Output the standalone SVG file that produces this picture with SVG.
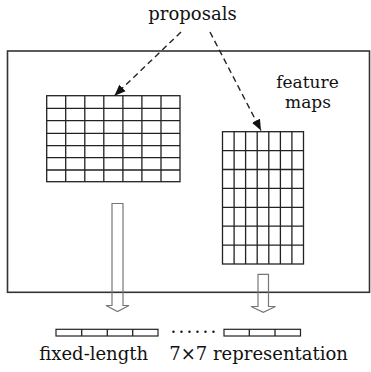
<svg xmlns="http://www.w3.org/2000/svg" width="371" height="372" viewBox="0 0 371 372">
<defs>
<style>
.lbl{font-family:"DejaVu Serif","Liberation Serif",serif;font-size:18px;fill:#111}
.side{font-size:17px}
.grid{fill:none;stroke:#222;stroke-width:1.3}
.frame{fill:none;stroke:#333;stroke-width:1.6}
.dash{fill:none;stroke:#222;stroke-width:1.4;stroke-dasharray:6 4}
.hollow{fill:none;stroke:#777;stroke-width:1.2}
.bar{fill:#fff;stroke:#222;stroke-width:1.2}
</style>
<marker id="ah" markerUnits="userSpaceOnUse" markerWidth="12" markerHeight="12" viewBox="0 0 12 12" refX="11" refY="6" orient="auto">
<path d="M0,1.5 L11,6 L0,10.5 Z" fill="#111"/>
</marker>
</defs>
<rect width="371" height="372" fill="#fff"/>
<g id="frame"><rect class="frame" x="7.5" y="51" width="362" height="241.3"/></g>
<g id="proposals"><text class="lbl" x="192.5" y="20" text-anchor="middle">proposals</text></g>
<g id="feature-maps-label"><text class="lbl side" text-anchor="middle"><tspan x="307.5" y="88">feature</tspan><tspan x="308" y="107.5">maps</tspan></text></g>
<g id="grid-left">
<rect class="grid" x="46.7" y="95.7" width="133.3" height="86"/>
<path class="grid" d="M65.7,95.7V181.7M84.8,95.7V181.7M103.8,95.7V181.7M122.9,95.7V181.7M141.9,95.7V181.7M161,95.7V181.7M46.7,108.3H180M46.7,120.7H180M46.7,133.3H180M46.7,145.7H180M46.7,157.7H180M46.7,170H180"/>
</g>
<g id="grid-right">
<rect class="grid" x="222.5" y="131.7" width="81" height="132.3"/>
<path class="grid" d="M234.1,131.7V264M245.6,131.7V264M257.2,131.7V264M268.8,131.7V264M280.4,131.7V264M291.9,131.7V264M222.5,150.6H303.5M222.5,169.5H303.5M222.5,188.4H303.5M222.5,207.3H303.5M222.5,226.2H303.5M222.5,245.1H303.5"/>
</g>
<g id="bar-left">
<rect class="bar" x="56" y="329.3" width="102" height="6.7"/>
<path class="grid" d="M81.7,329.3V336M107.3,329.3V336M132.7,329.3V336"/>
</g>
<g id="dots" fill="#222">
<circle cx="173.5" cy="331.8" r="1.3"/><circle cx="181.5" cy="331.8" r="1.3"/><circle cx="189.5" cy="331.8" r="1.3"/><circle cx="197.5" cy="331.8" r="1.3"/><circle cx="205.5" cy="331.8" r="1.3"/><circle cx="213.5" cy="331.8" r="1.3"/>
</g>
<g id="bar-right">
<rect class="bar" x="224" y="329.3" width="76.5" height="6.7"/>
<path class="grid" d="M249.3,329.3V336M275,329.3V336"/>
</g>
<g id="bottom-label"><text class="lbl"><tspan x="39.3" y="360">fixed-length</tspan><tspan x="169.3" y="360">7×7 representation</tspan></text></g>
<g id="connectors">
<line class="dash" x1="181" y1="32" x2="114.5" y2="95.7" marker-end="url(#ah)"/>
<line class="dash" x1="210" y1="32" x2="261" y2="130.5" marker-end="url(#ah)"/>
<path class="hollow" d="M112,305.5V203.5H123V305.5H129L117.5,311.5L106,305.5Z"/>
<path class="hollow" d="M258,306.5V274.3H268.5V306.5H275.5L263.3,312.3L251,306.5Z"/>
</g>
</svg>
